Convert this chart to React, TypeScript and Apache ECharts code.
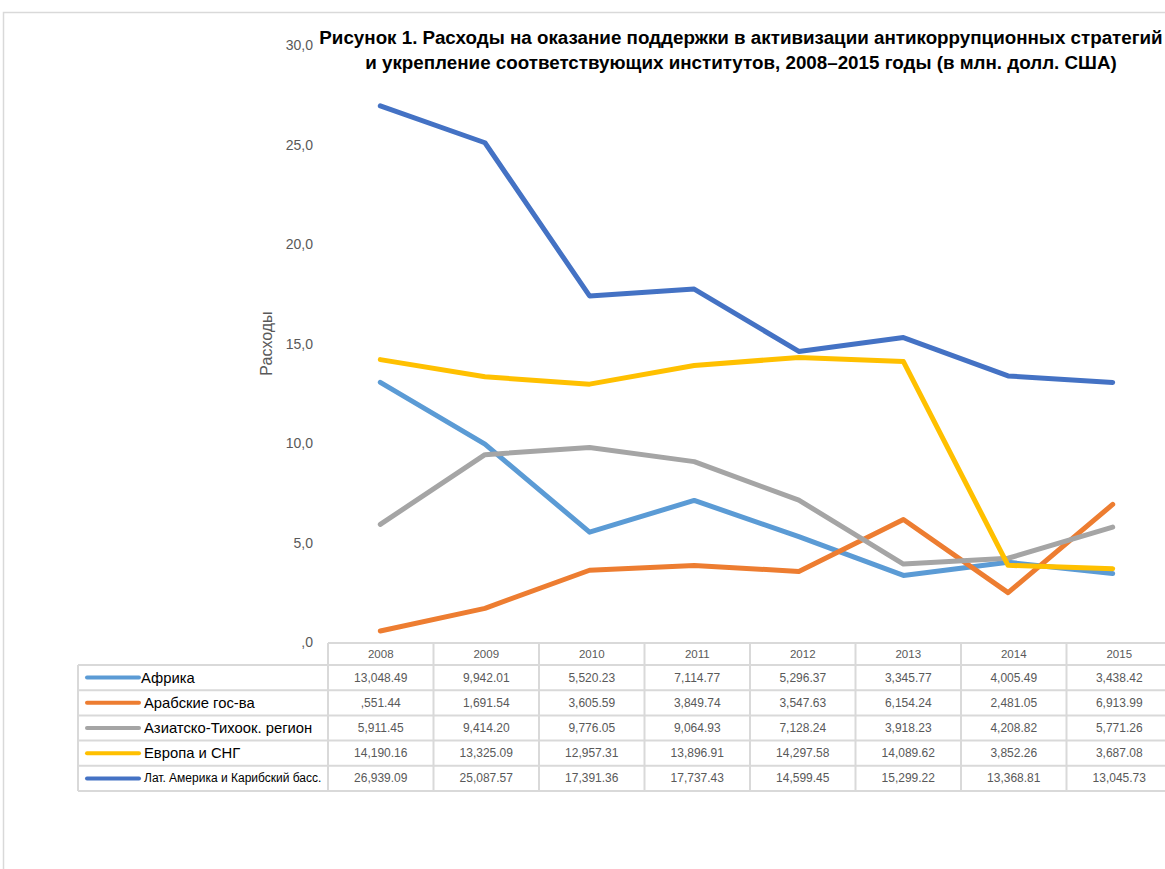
import React, { useEffect, useRef } from "react";
import * as echarts from "echarts";

const years = ["2008", "2009", "2010", "2011", "2012", "2013", "2014", "2015"];
const seriesNames = [
  "Африка",
  "Арабские гос-ва",
  "Азиатско-Тихоок. регион",
  "Европа и СНГ",
  "Лат. Америка и Карибский басс.",
];
const africa = [13048.49, 9942.01, 5520.23, 7114.77, 5296.37, 3345.77, 4005.49, 3438.42];
const arab = [551.44, 1691.54, 3605.59, 3849.74, 3547.63, 6154.24, 2481.05, 6913.99];
const asia = [5911.45, 9414.2, 9776.05, 9064.93, 7128.24, 3918.23, 4208.82, 5771.26];
const europe = [14190.16, 13325.09, 12957.31, 13896.91, 14297.58, 14089.62, 3852.26, 3687.08];
const latam = [26939.09, 25087.57, 17391.36, 17737.43, 14599.45, 15299.22, 13368.81, 13045.73];
const seriesData = [africa, arab, asia, europe, latam];
const colors = ["#5B9BD5", "#ED7D31", "#A5A5A5", "#FFC000", "#4472C4"];
const titleLines = [
  "Рисунок 1. Расходы на оказание поддержки в активизации антикоррупционных стратегий",
  "и укрепление соответствующих институтов, 2008–2015 годы (в млн. долл. США)",
];
const yAxisName = "Расходы";

const FONT = '"Liberation Sans", Arial, sans-serif';

function fmtNum(v: number): string {
  const s = v.toFixed(2);
  const [ip, dp] = s.split(".");
  const n = parseInt(ip, 10);
  const intStr = n < 1000 ? "," + ip : n.toLocaleString("en-US");
  return intStr + "." + dp;
}

export default function App() {
  const ref = useRef<HTMLDivElement>(null);
  useEffect(() => {
    if (!ref.current) return;
    const chart = echarts.init(ref.current, undefined, { renderer: "svg" });

    const gridLeft = 328;
    const gridWidth = 844;
    const gridTop = 45;
    const gridHeight = 597;
    const colW = gridWidth / years.length;
    const tableLeft = 78;
    const headerTop = 643;
    const headerBottom = 665;
    const rowH = 25.2;
    const tableBottom = headerBottom + rowH * seriesNames.length;
    const lineColor = "#D9D9D9";

    const graphics: any[] = [];
    graphics.push({
      type: "rect",
      shape: { x: 3.5, y: 12.5, width: 1200, height: 900 },
      style: { fill: "none", stroke: lineColor, lineWidth: 1.5 },
      silent: true,
    });
    titleLines.forEach((t, i) => {
      graphics.push({
        type: "text",
        x: 741,
        y: 37 + i * 25,
        style: {
          text: t,
          textAlign: "center",
          textVerticalAlign: "middle",
          font: `bold 18.8px ${FONT}`,
          fill: "#000",
        },
      });
    });
    graphics.push({
      type: "line",
      shape: { x1: gridLeft, y1: headerTop, x2: gridLeft + gridWidth, y2: headerTop },
      style: { stroke: lineColor, lineWidth: 2 },
    });
    for (let r = 0; r <= seriesNames.length; r++) {
      const y = headerBottom + r * rowH;
      graphics.push({
        type: "line",
        shape: { x1: tableLeft, y1: y, x2: gridLeft + gridWidth, y2: y },
        style: { stroke: lineColor, lineWidth: 2 },
      });
    }
    graphics.push({
      type: "line",
      shape: { x1: tableLeft, y1: headerBottom, x2: tableLeft, y2: tableBottom },
      style: { stroke: lineColor, lineWidth: 2 },
    });
    for (let c = 0; c <= years.length; c++) {
      const x = gridLeft + c * colW;
      graphics.push({
        type: "line",
        shape: { x1: x, y1: headerTop, x2: x, y2: tableBottom },
        style: { stroke: lineColor, lineWidth: 2 },
      });
    }
    years.forEach((yr, c) => {
      graphics.push({
        type: "text",
        x: gridLeft + (c + 0.5) * colW,
        y: (headerTop + headerBottom) / 2,
        style: {
          text: yr,
          textAlign: "center",
          textVerticalAlign: "middle",
          font: `11.5px ${FONT}`,
          fill: "#595959",
        },
      });
    });
    seriesNames.forEach((name, r) => {
      const cy = headerBottom + (r + 0.5) * rowH;
      graphics.push({
        type: "line",
        shape: { x1: 87, y1: cy, x2: 139, y2: cy },
        style: { stroke: colors[r], lineWidth: 4, lineCap: "round" },
      });
      graphics.push({
        type: "text",
        x: r === 0 ? 141 : 144,
        y: cy,
        style: {
          text: name,
          textAlign: "left",
          textVerticalAlign: "middle",
          font: `${r === 4 ? 12 : 14.8}px ${FONT}`,
          fill: "#000",
        },
      });
      seriesData[r].forEach((v, c) => {
        graphics.push({
          type: "text",
          x: gridLeft + (c + 0.5) * colW,
          y: cy,
          style: {
            text: fmtNum(v),
            textAlign: "center",
            textVerticalAlign: "middle",
            font: `12px ${FONT}`,
            fill: "#595959",
          },
        });
      });
    });

    chart.setOption({
      animation: false,
      backgroundColor: "#fff",
      grid: { left: gridLeft, top: gridTop, width: gridWidth, height: gridHeight },
      xAxis: {
        type: "category",
        data: years,
        boundaryGap: true,
        axisLine: { show: false },
        axisTick: { show: false },
        axisLabel: { show: false },
        splitLine: { show: false },
      },
      yAxis: {
        type: "value",
        min: 0,
        max: 30000,
        interval: 5000,
        name: yAxisName,
        nameLocation: "middle",
        nameGap: 54,
        nameRotate: 90,
        nameTextStyle: { color: "#595959", fontSize: 16, fontFamily: FONT },
        axisLine: { show: false },
        axisTick: { show: false },
        splitLine: { show: false },
        axisLabel: {
          margin: 15,
          color: "#595959",
          fontSize: 14,
          fontFamily: FONT,
          formatter: (v: number) => (v === 0 ? ",0" : v / 1000 + ",0"),
        },
      },
      series: seriesNames.map((name, i) => ({
        name,
        type: "line",
        data: seriesData[i],
        showSymbol: false,
        symbol: "none",
        lineStyle: { color: colors[i], width: 5, cap: "round", join: "round" },
        itemStyle: { color: colors[i] },
      })),
      graphic: graphics,
    });
    return () => chart.dispose();
  }, []);
  return (
    <div
      ref={ref}
      style={{ position: "absolute", left: 0, top: 0, width: 1165, height: 869 }}
    />
  );
}
